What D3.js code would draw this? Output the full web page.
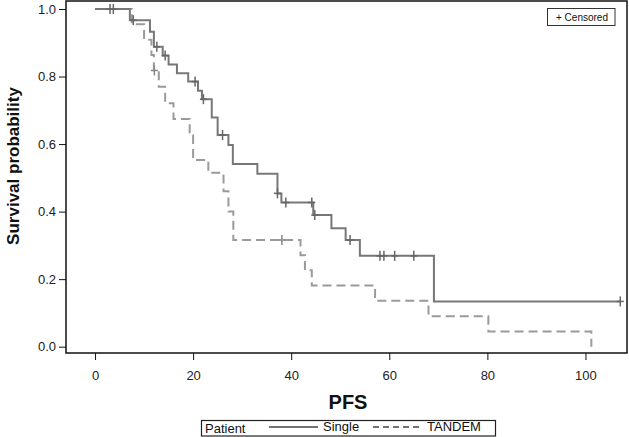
<!DOCTYPE html>
<html><head><meta charset="utf-8">
<script src="https://cdn.jsdelivr.net/npm/d3@7"></script>
<style>body{margin:0;background:#fff}svg{display:block}text{font-family:"Liberation Sans",Arial,sans-serif}</style>
</head><body>
<svg id="c" width="629" height="437"></svg>
<script>
// Kaplan-Meier step data (time of change, survival after change)
const singleTimes = [0, 7.1, 11.2, 12.0, 13.8, 15.0, 16.7, 19.0, 21.0, 21.8, 23.8, 25.0, 27.2, 28.1, 33.1, 37.2, 38.0, 44.5, 48.2, 51.1, 54.0, 69.1];
const singleSurv  = [1.0, 0.967, 0.933, 0.888, 0.862, 0.836, 0.81, 0.785, 0.758, 0.733, 0.679, 0.627, 0.597, 0.541, 0.512, 0.454, 0.427, 0.39, 0.351, 0.316, 0.269, 0.134];
const singleEnd = 107.1;
const singleCensorTimes = [3.06, 3.73, 7.8, 12.6, 14.3, 20.4, 22.1, 26.0, 37.2, 38.9, 44.2, 44.8, 52.0, 58.1, 58.9, 61.1, 65.0, 107.1];

const tandemTimes = [0, 7.5, 10.0, 11.5, 12.0, 13.0, 14.3, 16.0, 19.3, 20.0, 23.1, 26.2, 27.2, 28.2, 41.9, 42.8, 44.2, 57.1, 68.0, 80.2, 101.2];
const tandemSurv  = [1.0, 0.955, 0.909, 0.864, 0.818, 0.77, 0.721, 0.674, 0.626, 0.553, 0.515, 0.46, 0.40, 0.316, 0.271, 0.226, 0.181, 0.136, 0.090, 0.045, 0.0];
const tandemEnd = 101.2;
const tandemCensorTimes = [12.1, 38.1];

const xTicks = [0, 20, 40, 60, 80, 100];
const yTicks = [0.0, 0.2, 0.4, 0.6, 0.8, 1.0];
const groupNames = ["Single", "TANDEM"];

const svg = d3.select("#c");
const L = 66, R = 627, T = 1, B = 353;
const x = d3.scaleLinear().domain([-5.92, 108.47]).range([L, R]);
const y = d3.scaleLinear().domain([-0.0187, 1.0237]).range([B, T]);

function survAt(times, surv, t) {
  let s = surv[0];
  for (let i = 0; i < times.length; i++) if (times[i] <= t) s = surv[i];
  return s;
}
const line = d3.line().x(d => x(d[0])).y(d => y(d[1])).curve(d3.curveStepAfter);

function series(times, surv, end) {
  const pts = times.map((t, i) => [t, surv[i]]);
  if (end > times[times.length - 1]) pts.push([end, surv[surv.length - 1]]);
  return pts;
}

// curves
svg.append("path").datum(series(tandemTimes, tandemSurv, tandemEnd))
  .attr("d", line).attr("fill", "none").attr("stroke", "#9a9a9a")
  .attr("stroke-width", 2).attr("stroke-dasharray", "9,5");
svg.append("path").datum(series(singleTimes, singleSurv, singleEnd))
  .attr("d", line).attr("fill", "none").attr("stroke", "#777")
  .attr("stroke-width", 2);

// censor marks
function censors(times, st, sv, color) {
  svg.append("g").selectAll("line").data(times).join("line")
    .attr("x1", d => x(d)).attr("x2", d => x(d))
    .attr("y1", d => y(survAt(st, sv, d)) - 5)
    .attr("y2", d => y(survAt(st, sv, d)) + 5)
    .attr("stroke", color).attr("stroke-width", 1.5);
  svg.append("g").selectAll("line").data(times).join("line")
    .attr("x1", d => x(d) - 3.5).attr("x2", d => x(d) + 3.5)
    .attr("y1", d => y(survAt(st, sv, d)))
    .attr("y2", d => y(survAt(st, sv, d)))
    .attr("stroke", color).attr("stroke-width", 1.5);
}
censors(singleCensorTimes, singleTimes, singleSurv, "#666");
censors(tandemCensorTimes, tandemTimes, tandemSurv, "#888");

// frame
svg.append("rect").attr("x", L).attr("y", T).attr("width", R - L).attr("height", B - T)
  .attr("fill", "none").attr("stroke", "#111").attr("stroke-width", 1.5);

// axes
const xAxis = svg.append("g").attr("transform", `translate(0,${B})`)
  .call(d3.axisBottom(x).tickValues(xTicks).tickSize(7).tickPadding(11).tickFormat(d3.format("d")));
xAxis.select(".domain").remove();
xAxis.selectAll("text").attr("font-size", 13).attr("fill", "#222").attr("font-family", "Liberation Sans, Arial");
xAxis.selectAll("line").attr("stroke", "#111");

const yAxis = svg.append("g").attr("transform", `translate(${L},0)`)
  .call(d3.axisLeft(y).tickValues(yTicks).tickSize(7).tickPadding(3).tickFormat(d3.format(".1f")));
yAxis.select(".domain").remove();
yAxis.selectAll("text").attr("font-size", 13).attr("fill", "#222").attr("font-family", "Liberation Sans, Arial");
yAxis.selectAll("line").attr("stroke", "#111");

// titles
svg.append("text").attr("x", 348).attr("y", 409).attr("text-anchor", "middle")
  .attr("font-size", 20).attr("font-weight", "bold").attr("fill", "#111").text("PFS");
svg.append("text").attr("transform", "translate(19,166) rotate(-90)").attr("text-anchor", "middle")
  .attr("font-size", 17).attr("font-weight", "bold").attr("fill", "#111").text("Survival probability");

// censored legend
svg.append("rect").attr("x", 547.5).attr("y", 8.5).attr("width", 67.5).attr("height", 17)
  .attr("fill", "#fff").attr("stroke", "#333").attr("stroke-width", 1);
svg.append("text").attr("x", 556).attr("y", 21).attr("font-size", 10).attr("fill", "#111").text("+ Censored");

// bottom legend
const lg = svg.append("g");
lg.append("rect").attr("x", 201.5).attr("y", 420.5).attr("width", 294).attr("height", 15.5)
  .attr("fill", "#fff").attr("stroke", "#222").attr("stroke-width", 1.2);
lg.append("text").attr("x", 205).attr("y", 433).attr("font-size", 13).attr("fill", "#111").text("Patient");
lg.append("line").attr("x1", 269).attr("x2", 318).attr("y1", 427).attr("y2", 427)
  .attr("stroke", "#444").attr("stroke-width", 1.5);
lg.append("text").attr("x", 323).attr("y", 431).attr("font-size", 13).attr("fill", "#111").text(groupNames[0]);
lg.append("line").attr("x1", 373).attr("x2", 422).attr("y1", 427).attr("y2", 427)
  .attr("stroke", "#444").attr("stroke-width", 1.5).attr("stroke-dasharray", "6,4");
lg.append("text").attr("x", 427).attr("y", 431).attr("font-size", 13).attr("fill", "#111").text(groupNames[1]);
</script>
</body></html>
